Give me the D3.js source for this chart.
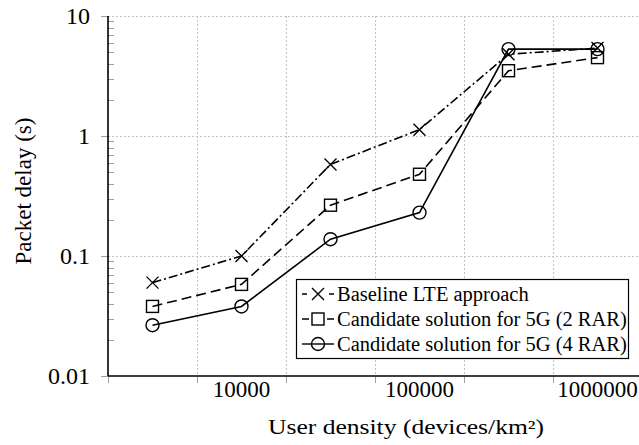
<!DOCTYPE html>
<html>
<head>
<meta charset="utf-8">
<script src="https://cdn.jsdelivr.net/npm/d3@7.9.0/dist/d3.min.js"></script>
<style>
    html, body { margin: 0; padding: 0; background: #fff; }
    svg { display: block; }
    text { font-family: "Liberation Serif", "Times New Roman", serif; fill: #000; }
</style>
</head>
<body>
<div id="chart"></div>
<script>
// user density categories (devices/km2), only every other one is labelled
const densities = [5000, 10000, 50000, 100000, 500000, 1000000];
const labelledTicks = [10000, 100000, 1000000];
const delayTicks = [0.01, 0.1, 1, 10];

// packet delay (s)
const baselineLte = [0.06, 0.1, 0.58, 1.13, 4.8, 5.4];
const rar2 = [0.038, 0.058, 0.265, 0.48, 3.5, 4.5];
const rar4 = [0.0265, 0.038, 0.138, 0.23, 5.3, 5.3];

const seriesNames = [
    'Baseline LTE approach',
    'Candidate solution for 5G (2 RAR)',
    'Candidate solution for 5G (4 RAR)',
];

const width = 639;
const height = 445;
const margin = { top: 16, right: -3, bottom: 69, left: 108 };

const svg = d3.select('#chart')
    .append('svg')
    .attr('width', width)
    .attr('height', height);

const x = d3.scaleBand()
    .domain(densities)
    .range([margin.left, width - margin.right])
    .padding(0);

const y = d3.scaleLog()
    .domain([0.01, 10])
    .range([height - margin.bottom, margin.top]);

const xc = (d) => x(d) + x.bandwidth() / 2;
const plotBottom = y(0.01);

// grid
const grid = svg.append('g').attr('stroke', '#c4c4c4').attr('stroke-width', 1).attr('stroke-dasharray', '2,2');
grid.selectAll('line.h')
    .data(delayTicks.slice(1))
    .join('line')
    .attr('x1', margin.left).attr('x2', width)
    .attr('y1', (d) => Math.round(y(d)) + 0.5).attr('y2', (d) => Math.round(y(d)) + 0.5);
grid.selectAll('line.v')
    .data(densities.slice(1))
    .join('line')
    .attr('x1', (d) => Math.round(x(d)) + 0.5).attr('x2', (d) => Math.round(x(d)) + 0.5)
    .attr('y1', margin.top).attr('y2', plotBottom);

// minor y ticks inside the plot
const minor = [];
for (let e = -2; e < 1; e++) {
    for (let k = 2; k <= 9; k++) minor.push(k * Math.pow(10, e));
}
svg.append('g').selectAll('line')
    .data(minor)
    .join('line')
    .attr('x1', margin.left).attr('x2', margin.left + 6)
    .attr('y1', (d) => Math.round(y(d)) + 0.5).attr('y2', (d) => Math.round(y(d)) + 0.5)
    .attr('stroke', '#a0a0a0');

// major ticks outside
svg.append('g').selectAll('line')
    .data(delayTicks)
    .join('line')
    .attr('x1', margin.left - 7).attr('x2', margin.left)
    .attr('y1', (d) => Math.round(y(d)) + 0.5).attr('y2', (d) => Math.round(y(d)) + 0.5)
    .attr('stroke', '#a0a0a0');
svg.append('g').selectAll('line')
    .data(densities)
    .join('line')
    .attr('x1', (d) => Math.round(x(d)) + 0.5).attr('x2', (d) => Math.round(x(d)) + 0.5)
    .attr('y1', plotBottom).attr('y2', plotBottom + 7)
    .attr('stroke', '#a0a0a0');

// axis lines
svg.append('line')
    .attr('x1', margin.left).attr('x2', margin.left)
    .attr('y1', margin.top).attr('y2', plotBottom)
    .attr('stroke', '#000').attr('stroke-width', 1.6);
svg.append('line')
    .attr('x1', margin.left).attr('x2', width)
    .attr('y1', plotBottom).attr('y2', plotBottom)
    .attr('stroke', '#000').attr('stroke-width', 1.6);

// tick labels
svg.append('g').selectAll('text')
    .data(delayTicks)
    .join('text')
    .attr('x', 90)
    .attr('y', (d) => y(d))
    .attr('dy', '0.35em')
    .attr('text-anchor', 'end')
    .attr('font-size', 24)
    .text((d) => d3.format('~g')(d));

svg.append('g').selectAll('text')
    .data(labelledTicks)
    .join('text')
    .attr('x', xc)
    .attr('y', 397)
    .attr('text-anchor', 'middle')
    .attr('font-size', 23)
    .text((d) => d);

// axis titles
svg.append('text')
    .attr('x', 406)
    .attr('y', 434)
    .attr('text-anchor', 'middle')
    .attr('font-size', 20)
    .attr('textLength', 276)
    .attr('lengthAdjust', 'spacingAndGlyphs')
    .text('User density (devices/km²)');

svg.append('text')
    .attr('transform', 'translate(31,191) rotate(-90)')
    .attr('text-anchor', 'middle')
    .attr('font-size', 23)
    .text('Packet delay (s)');

// series
const series = [
    { name: seriesNames[0], values: baselineLte, dash: '9,3,2,3', marker: 'x' },
    { name: seriesNames[1], values: rar2, dash: '10,5', marker: 'square' },
    { name: seriesNames[2], values: rar4, dash: null, marker: 'circle' },
];

const line = d3.line()
    .x((d, i) => xc(densities[i]))
    .y((d) => y(d));

function drawMarker(g, type, cx, cy) {
    if (type === 'x') {
        g.append('path')
            .attr('d', `M${cx - 6},${cy - 6}L${cx + 6},${cy + 6}M${cx - 6},${cy + 6}L${cx + 6},${cy - 6}`)
            .attr('stroke', '#000').attr('stroke-width', 1.4).attr('fill', 'none');
    } else if (type === 'square') {
        g.append('rect')
            .attr('x', cx - 6).attr('y', cy - 6).attr('width', 12).attr('height', 12)
            .attr('stroke', '#000').attr('stroke-width', 1.4).attr('fill', 'none');
    } else {
        g.append('circle')
            .attr('cx', cx).attr('cy', cy).attr('r', 6.5)
            .attr('stroke', '#000').attr('stroke-width', 1.4).attr('fill', 'none');
    }
}

series.forEach((s) => {
    const g = svg.append('g');
    g.append('path')
        .datum(s.values)
        .attr('d', line)
        .attr('fill', 'none')
        .attr('stroke', '#000')
        .attr('stroke-width', 1.6)
        .attr('stroke-dasharray', s.dash);
    s.values.forEach((v, i) => drawMarker(g, s.marker, xc(densities[i]), y(v)));
});

// legend
const legend = svg.append('g');
legend.append('rect')
    .attr('x', 296.5).attr('y', 279.5).attr('width', 332).attr('height', 79)
    .attr('fill', '#fff').attr('stroke', '#000').attr('stroke-width', 1.2);

series.forEach((s, i) => {
    const ly = 294 + i * 25;
    const g = legend.append('g');
    g.append('line')
        .attr('x1', 302).attr('x2', 334)
        .attr('y1', ly).attr('y2', ly)
        .attr('stroke', '#000').attr('stroke-width', 1.4)
        .attr('stroke-dasharray', s.dash ? (i === 0 ? '5,22,5' : '7,18,7') : null);
    drawMarker(g, s.marker, 318, ly);
    g.append('text')
        .attr('x', 337)
        .attr('y', ly)
        .attr('dy', '0.35em')
        .attr('font-size', 20.5)
        .text(s.name);
});
</script>
</body>
</html>
